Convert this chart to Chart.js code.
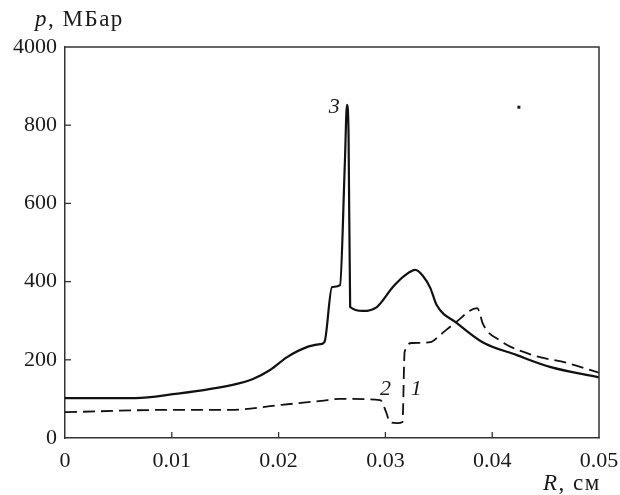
<!DOCTYPE html>
<html>
<head>
<meta charset="utf-8">
<script src="https://cdn.jsdelivr.net/npm/chart.js@4"></script>
<style>
  html, body { margin: 0; padding: 0; background: #fff; font-family: "Liberation Serif", serif; }
  #wrap { width: 620px; height: 495px; }
</style>
</head>
<body>
<div id="wrap"><canvas id="c" width="620" height="495"></canvas></div>
<script>
// Curve 3 (solid)
const R3 = [0, 0.0066, 0.0101, 0.0157, 0.0176, 0.0192, 0.0208, 0.0227, 0.0239, 0.0243, 0.0250, 0.02575, 0.0262, 0.0264, 0.02655, 0.0267, 0.0279, 0.0292, 0.0307, 0.0318, 0.0328, 0.0335, 0.0342, 0.0348, 0.0367, 0.0391, 0.0423, 0.0454, 0.0500];
const P3 = [102, 102, 112, 136, 151, 174, 207, 233, 240, 246, 386, 391, 700, 852, 780, 335, 325, 335, 386, 415, 430, 415, 384, 340, 294, 245, 212, 182, 155];
// Curves 1, 2 (dashed)
const R12 = [0, 0.0100, 0.0155, 0.0200, 0.0240, 0.0257, 0.0295, 0.0301, 0.0304, 0.0311, 0.0316, 0.0318, 0.0325, 0.0342, 0.0351, 0.0365, 0.0386, 0.0388, 0.0391, 0.0407, 0.0438, 0.0470, 0.0500];
const P12 = [66, 72, 72, 84, 95, 100, 97, 64, 41, 38, 41, 220, 243, 245, 263, 294, 332, 322, 294, 250, 212, 192, 167];
const xTicks = [0, 0.01, 0.02, 0.03, 0.04, 0.05];
const yTicks = [0, 200, 400, 600, 800, 1000];
const yTickLabels = ['0', '200', '400', '600', '800', '4000'];
const curveLabels = [
  { text: '3', x: 0.0252, y: 846 },
  { text: '2', x: 0.0300, y: 124 },
  { text: '1', x: 0.0329, y: 124 }
];
const dot = { x: 0.0425, y: 846 };

const FONT = '"Liberation Serif", "Times New Roman", serif';
const INK = '#1a1a1a';

function pts(xs, ys) { return xs.map((v, i) => ({ x: v, y: ys[i] })); }

const decor = {
  id: 'decor',
  afterDraw(chart) {
    const ctx = chart.ctx;
    const a = chart.chartArea;
    const xs = chart.scales.x, ys = chart.scales.y;
    ctx.save();
    // frame top/right
    ctx.strokeStyle = '#333';
    ctx.lineWidth = 1.5;
    ctx.beginPath();
    ctx.moveTo(a.left, a.top); ctx.lineTo(a.right, a.top); ctx.lineTo(a.right, a.bottom);
    ctx.stroke();
    // inward ticks
    ctx.lineWidth = 1.3;
    xTicks.forEach(v => {
      if (v === 0 || v === 0.05) return;
      const px = xs.getPixelForValue(v);
      ctx.beginPath(); ctx.moveTo(px, a.bottom); ctx.lineTo(px, a.bottom - 6); ctx.stroke();
    });
    yTicks.forEach(v => {
      if (v === 0 || v === 1000) return;
      const py = ys.getPixelForValue(v);
      ctx.beginPath(); ctx.moveTo(a.left, py); ctx.lineTo(a.left + 6, py); ctx.stroke();
    });
    // curve labels
    ctx.fillStyle = INK;
    ctx.font = 'italic 22px ' + FONT;
    ctx.textAlign = 'center';
    ctx.textBaseline = 'middle';
    curveLabels.forEach(l => {
      ctx.fillText(l.text, xs.getPixelForValue(l.x), ys.getPixelForValue(l.y));
    });
    // dot
    ctx.fillRect(xs.getPixelForValue(dot.x) - 1.5, ys.getPixelForValue(dot.y) - 1.5, 3, 3);
    // axis titles
    ctx.textAlign = 'left';
    ctx.textBaseline = 'alphabetic';
    function mixed(parts, x, y) {
      parts.forEach(p => {
        ctx.font = (p.it ? 'italic ' : '') + '23px ' + FONT;
        for (const ch of p.t) {
          ctx.fillText(ch, x, y);
          x += ctx.measureText(ch).width + 1.5;
        }
      });
    }
    mixed([{ t: 'p', it: true }, { t: ', МБар', it: false }], 35, 26);
    mixed([{ t: 'R', it: true }, { t: ', см', it: false }], 543, 490);
    ctx.restore();
  }
};

new Chart(document.getElementById('c'), {
  type: 'line',
  plugins: [decor],
  data: {
    datasets: [
      {
        data: pts(R3, P3),
        borderColor: '#111',
        borderWidth: 2.2,
        pointRadius: 0,
        cubicInterpolationMode: 'monotone',
        fill: false
      },
      {
        data: pts(R12, P12),
        borderColor: '#111',
        borderWidth: 1.8,
        borderDash: [12, 6],
        pointRadius: 0,
        cubicInterpolationMode: 'monotone',
        fill: false
      }
    ]
  },
  options: {
    responsive: false,
    animation: false,
    events: [],
    layout: { padding: { top: 47, right: 21, left: 0, bottom: 0 } },
    plugins: { legend: { display: false }, tooltip: { enabled: false } },
    scales: {
      x: {
        type: 'linear',
        min: 0, max: 0.05,
        afterBuildTicks(s) { s.ticks = xTicks.map(v => ({ value: v })); },
        afterFit(s) { s.height = 57; s.paddingLeft = 0; s.paddingRight = 0; },
        grid: { display: false, drawTicks: false },
        border: { display: true, color: '#333', width: 1.5 },
        ticks: {
          padding: 10,
          color: INK,
          font: { family: FONT, size: 22 },
          maxRotation: 0,
          callback: v => (v === 0 ? '0' : v.toFixed(2))
        }
      },
      y: {
        type: 'linear',
        min: 0, max: 1000,
        afterBuildTicks(s) { s.ticks = yTicks.map(v => ({ value: v })); },
        afterFit(s) { s.width = 65; s.paddingTop = 0; s.paddingBottom = 0; },
        grid: { display: false, drawTicks: false },
        border: { display: true, color: '#333', width: 1.5 },
        ticks: {
          padding: 8,
          color: INK,
          font: { family: FONT, size: 22 },
          callback: v => yTickLabels[yTicks.indexOf(v)]
        }
      }
    }
  }
});
</script>
</body>
</html>
